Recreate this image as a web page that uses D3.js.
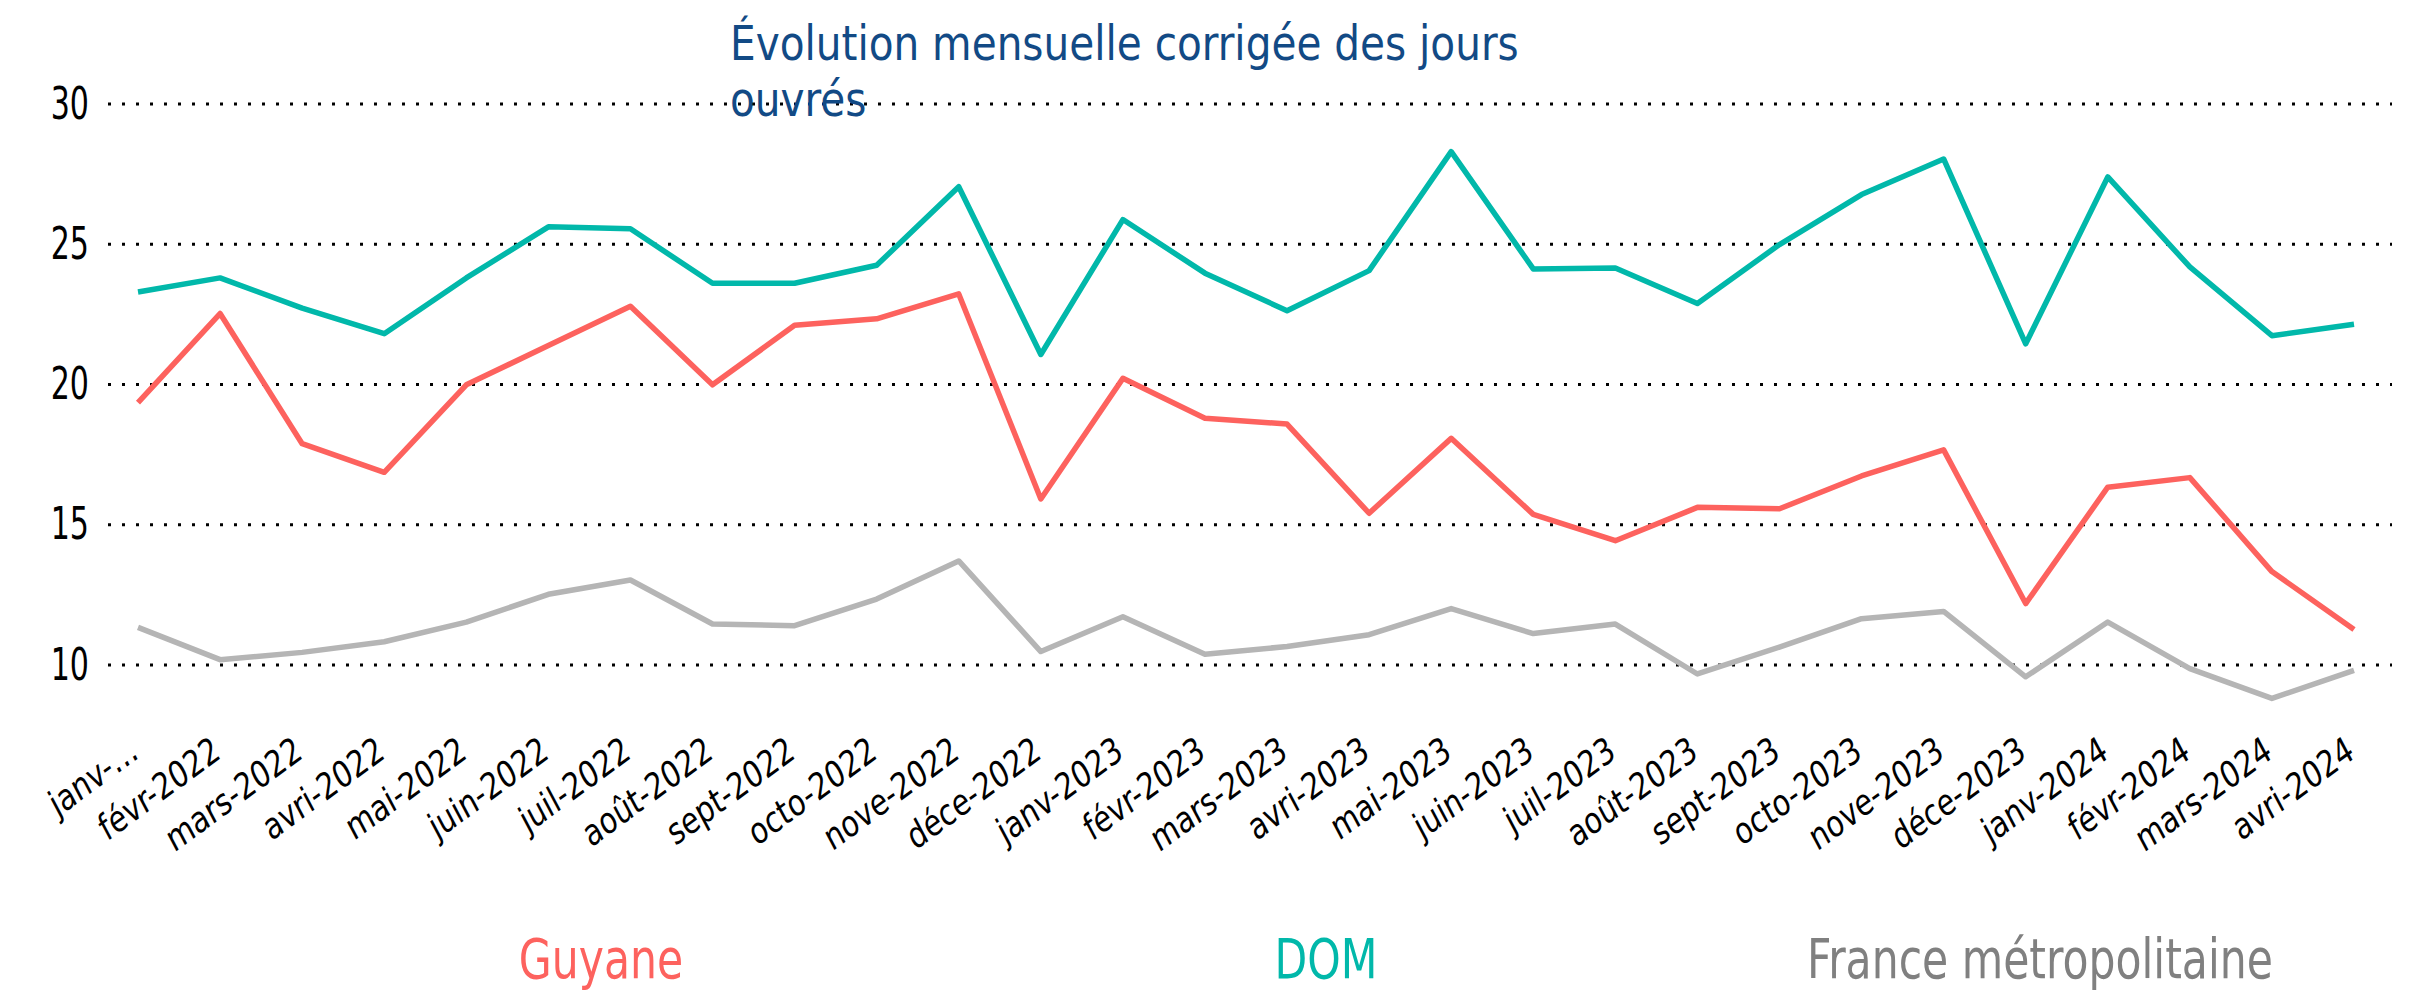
<!DOCTYPE html>
<html>
<head>
<meta charset="utf-8">
<script src="https://cdn.jsdelivr.net/npm/d3@7"></script>
<style>
  body { margin: 0; background: #fff; }
  svg text { font-family: "DejaVu Sans Condensed", "DejaVu Sans", sans-serif; font-stretch: condensed; }
</style>
</head>
<body>
<div id="chart"></div>
<script>
const width = 2410;
const height = 991;

// months on the x axis (first label is truncated in the original)
const months = ["janv-…", "févr-2022", "mars-2022", "avri-2022", "mai-2022", "juin-2022", "juil-2022",
  "août-2022", "sept-2022", "octo-2022", "nove-2022", "déce-2022", "janv-2023", "févr-2023",
  "mars-2023", "avri-2023", "mai-2023", "juin-2023", "juil-2023", "août-2023", "sept-2023",
  "octo-2023", "nove-2023", "déce-2023", "janv-2024", "févr-2024", "mars-2024", "avri-2024"];

const guyane = [19.35, 22.53, 17.89, 16.87, 19.99, 21.39, 22.79, 19.99, 22.11, 22.34, 23.23, 15.92,
  20.22, 18.8, 18.59, 15.41, 18.08, 15.37, 14.43, 15.62, 15.57, 16.74, 17.67, 12.19, 16.34, 16.68, 13.33, 11.27];
const dom = [23.3, 23.8, 22.72, 21.81, 23.8, 25.62, 25.55, 23.61, 23.61, 24.25, 27.05, 21.07,
  25.88, 23.97, 22.63, 24.06, 28.3, 24.12, 24.15, 22.89, 24.99, 26.77, 28.04, 21.45, 27.4, 24.19, 21.74, 22.15];
const metro = [11.34, 10.19, 10.45, 10.83, 11.53, 12.52, 13.03, 11.46, 11.4, 12.35, 13.71, 10.48,
  11.72, 10.38, 10.66, 11.08, 12.01, 11.12, 11.46, 9.68, 10.64, 11.65, 11.91, 9.58, 11.53, 9.87, 8.81, 9.81];

const yTicks = [10, 15, 20, 25, 30];
const seriesNames = ["Guyane", "DOM", "France métropolitaine"];
const seriesColors = ["#FD625E", "#01B8AA", "#B5B5B5"];
const legendColors = ["#FD625E", "#01B8AA", "#808080"];
const title = ["Évolution mensuelle corrigée des jours", "ouvrés"];

const svg = d3.select("#chart").append("svg")
  .attr("width", width)
  .attr("height", height);

const x = d3.scalePoint().domain(months).range([138, 2354]);
const y = d3.scaleLinear().domain([10, 30]).range([665, 104]);

// dotted gridlines
svg.append("g")
  .selectAll("line")
  .data(yTicks)
  .enter()
  .append("line")
  .attr("x1", 108)
  .attr("x2", 2392)
  .attr("y1", d => y(d))
  .attr("y2", d => y(d))
  .attr("stroke", "#000")
  .attr("stroke-width", 3)
  .attr("stroke-dasharray", "3,11");

// y axis labels (glyphs are narrow in the original, so squeeze them)
const yAxis = svg.append("g")
  .attr("transform", "translate(89,0)")
  .call(d3.axisLeft(y).tickValues(yTicks).tickSize(0).tickPadding(0));
yAxis.select(".domain").remove();
yAxis.selectAll("text")
  .attr("font-size", 44)
  .attr("fill", "#000")
  .attr("transform", "scale(0.76,1)");

// x axis labels, rotated
const xAxis = svg.append("g")
  .attr("transform", "translate(0,735)")
  .call(d3.axisBottom(x).tickSize(0).tickPadding(0));
xAxis.select(".domain").remove();
xAxis.selectAll("text")
  .attr("font-size", 37)
  .attr("fill", "#000")
  .attr("text-anchor", "end")
  .attr("dy", "0.7em")
  .attr("transform", "translate(-10,0) scale(0.85,1) rotate(-32)");

// lines
const line = d3.line()
  .x((d, i) => x(months[i]))
  .y(d => y(d));

const allSeries = [metro, guyane, dom];
const allColors = [seriesColors[2], seriesColors[0], seriesColors[1]];
svg.append("g")
  .selectAll("path")
  .data(allSeries)
  .enter()
  .append("path")
  .attr("d", d => line(d))
  .attr("fill", "none")
  .attr("stroke", (d, i) => allColors[i])
  .attr("stroke-width", 5.5)
  .attr("stroke-linejoin", "round");

// title
svg.append("text")
  .attr("transform", "translate(730,60) scale(0.94,1)")
  .attr("font-size", 48)
  .attr("fill", "#124A85")
  .selectAll("tspan")
  .data(title)
  .enter()
  .append("tspan")
  .attr("x", 0)
  .attr("dy", (d, i) => i == 0 ? 0 : 56)
  .text(d => d);

// legend
const legendX = [601, 1326, 2040];
svg.append("g")
  .selectAll("text")
  .data(seriesNames)
  .enter()
  .append("text")
  .attr("transform", (d, i) => `translate(${legendX[i]},978) scale(0.86,1)`)
  .attr("text-anchor", "middle")
  .attr("font-size", 55)
  .attr("fill", (d, i) => legendColors[i])
  .text(d => d);
</script>
</body>
</html>
